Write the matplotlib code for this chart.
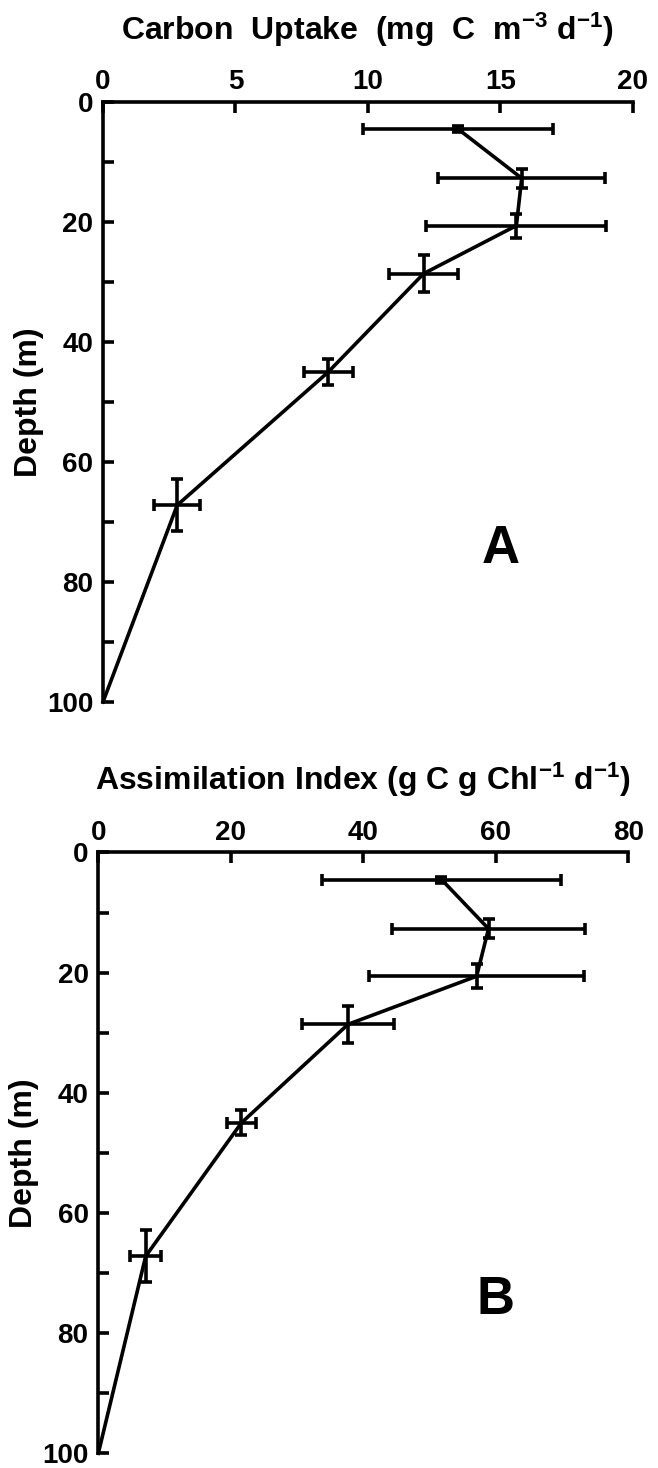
import numpy as np
import matplotlib
matplotlib.use("Agg")
import matplotlib.pyplot as plt

plt.rcParams['font.family'] = ['Liberation Sans', 'DejaVu Sans']
plt.rcParams['font.weight'] = 'bold'
plt.rcParams['mathtext.fontset'] = 'custom'
plt.rcParams['mathtext.rm'] = 'Liberation Sans:bold'
plt.rcParams['mathtext.bf'] = 'Liberation Sans:bold'
plt.rcParams['mathtext.default'] = 'rm'

# sample depths (m)
depth = [4.5, 12.7, 20.6, 28.6, 45.0, 67.2, 100.0]
depth_err = [0.5, 1.6, 2.0, 3.1, 2.1, 4.3]

# panel A: carbon uptake (mg C m-3 d-1)
uptake = [13.4, 15.8, 15.6, 12.1, 8.5, 2.8, 0.0]
uptake_err = [3.6, 3.15, 3.4, 1.3, 0.92, 0.86]

# panel B: assimilation index (g C g Chl-1 d-1)
assim = [51.8, 58.9, 57.1, 37.7, 21.6, 7.15, 0.0]
assim_err = [18.0, 14.5, 16.2, 6.9, 2.2, 2.3]

fig = plt.figure(figsize=(6.58, 14.68), dpi=100)
ax1 = fig.add_axes([0.1565, 0.5218, 0.8055, 0.4087])
ax2 = fig.add_axes([0.1494, 0.0100, 0.8055, 0.4093])

lw = 2.6


def style(ax, xmax, xstep, title, letter, letter_x):
    ax.set_xlim(0, xmax)
    ax.set_ylim(100, 0)
    ax.xaxis.tick_top()
    ax.xaxis.set_label_position('top')
    ax.set_xticks(np.arange(0, xmax + 1, xstep))
    ax.set_yticks(np.arange(0, 101, 20))
    ax.set_yticks(np.arange(10, 100, 20), minor=True)
    ax.tick_params(axis='both', which='both', direction='in', length=8,
                   width=lw, labelsize=20, pad=7)
    ax.tick_params(axis='x', pad=5)
    for s in ['right', 'bottom']:
        ax.spines[s].set_visible(False)
    for s in ['left', 'top']:
        ax.spines[s].set_linewidth(lw)
    for lab in ax.get_xticklabels() + ax.get_yticklabels():
        lab.set_fontweight('bold')
    ax.set_xlabel(title, fontsize=23, fontweight='bold', labelpad=21)
    ax.set_ylabel('Depth (m)', fontsize=23, fontweight='bold', labelpad=2)
    ax.text(letter_x, 74.5, letter, fontsize=38, ha='center', va='center')


ax1.plot(uptake, depth, color='black', lw=lw, clip_on=False)
ax1.errorbar(uptake[:6], depth[:6], xerr=uptake_err, yerr=depth_err, fmt='none',
             ecolor='black', elinewidth=lw, capsize=4, capthick=lw, clip_on=False)
style(ax1, 20, 5, r'Carbon  Uptake  (mg  C  m$^{-3}$ d$^{-1}$)', 'A', 15.0)

ax2.plot(assim, depth, color='black', lw=lw, clip_on=False)
ax2.errorbar(assim[:6], depth[:6], xerr=assim_err, yerr=depth_err, fmt='none',
             ecolor='black', elinewidth=lw, capsize=4, capthick=lw, clip_on=False)
style(ax2, 80, 20, r'Assimilation Index (g C g Chl$^{-1}$ d$^{-1}$)', 'B', 59.9)

fig.savefig('out.png', dpi=100)
